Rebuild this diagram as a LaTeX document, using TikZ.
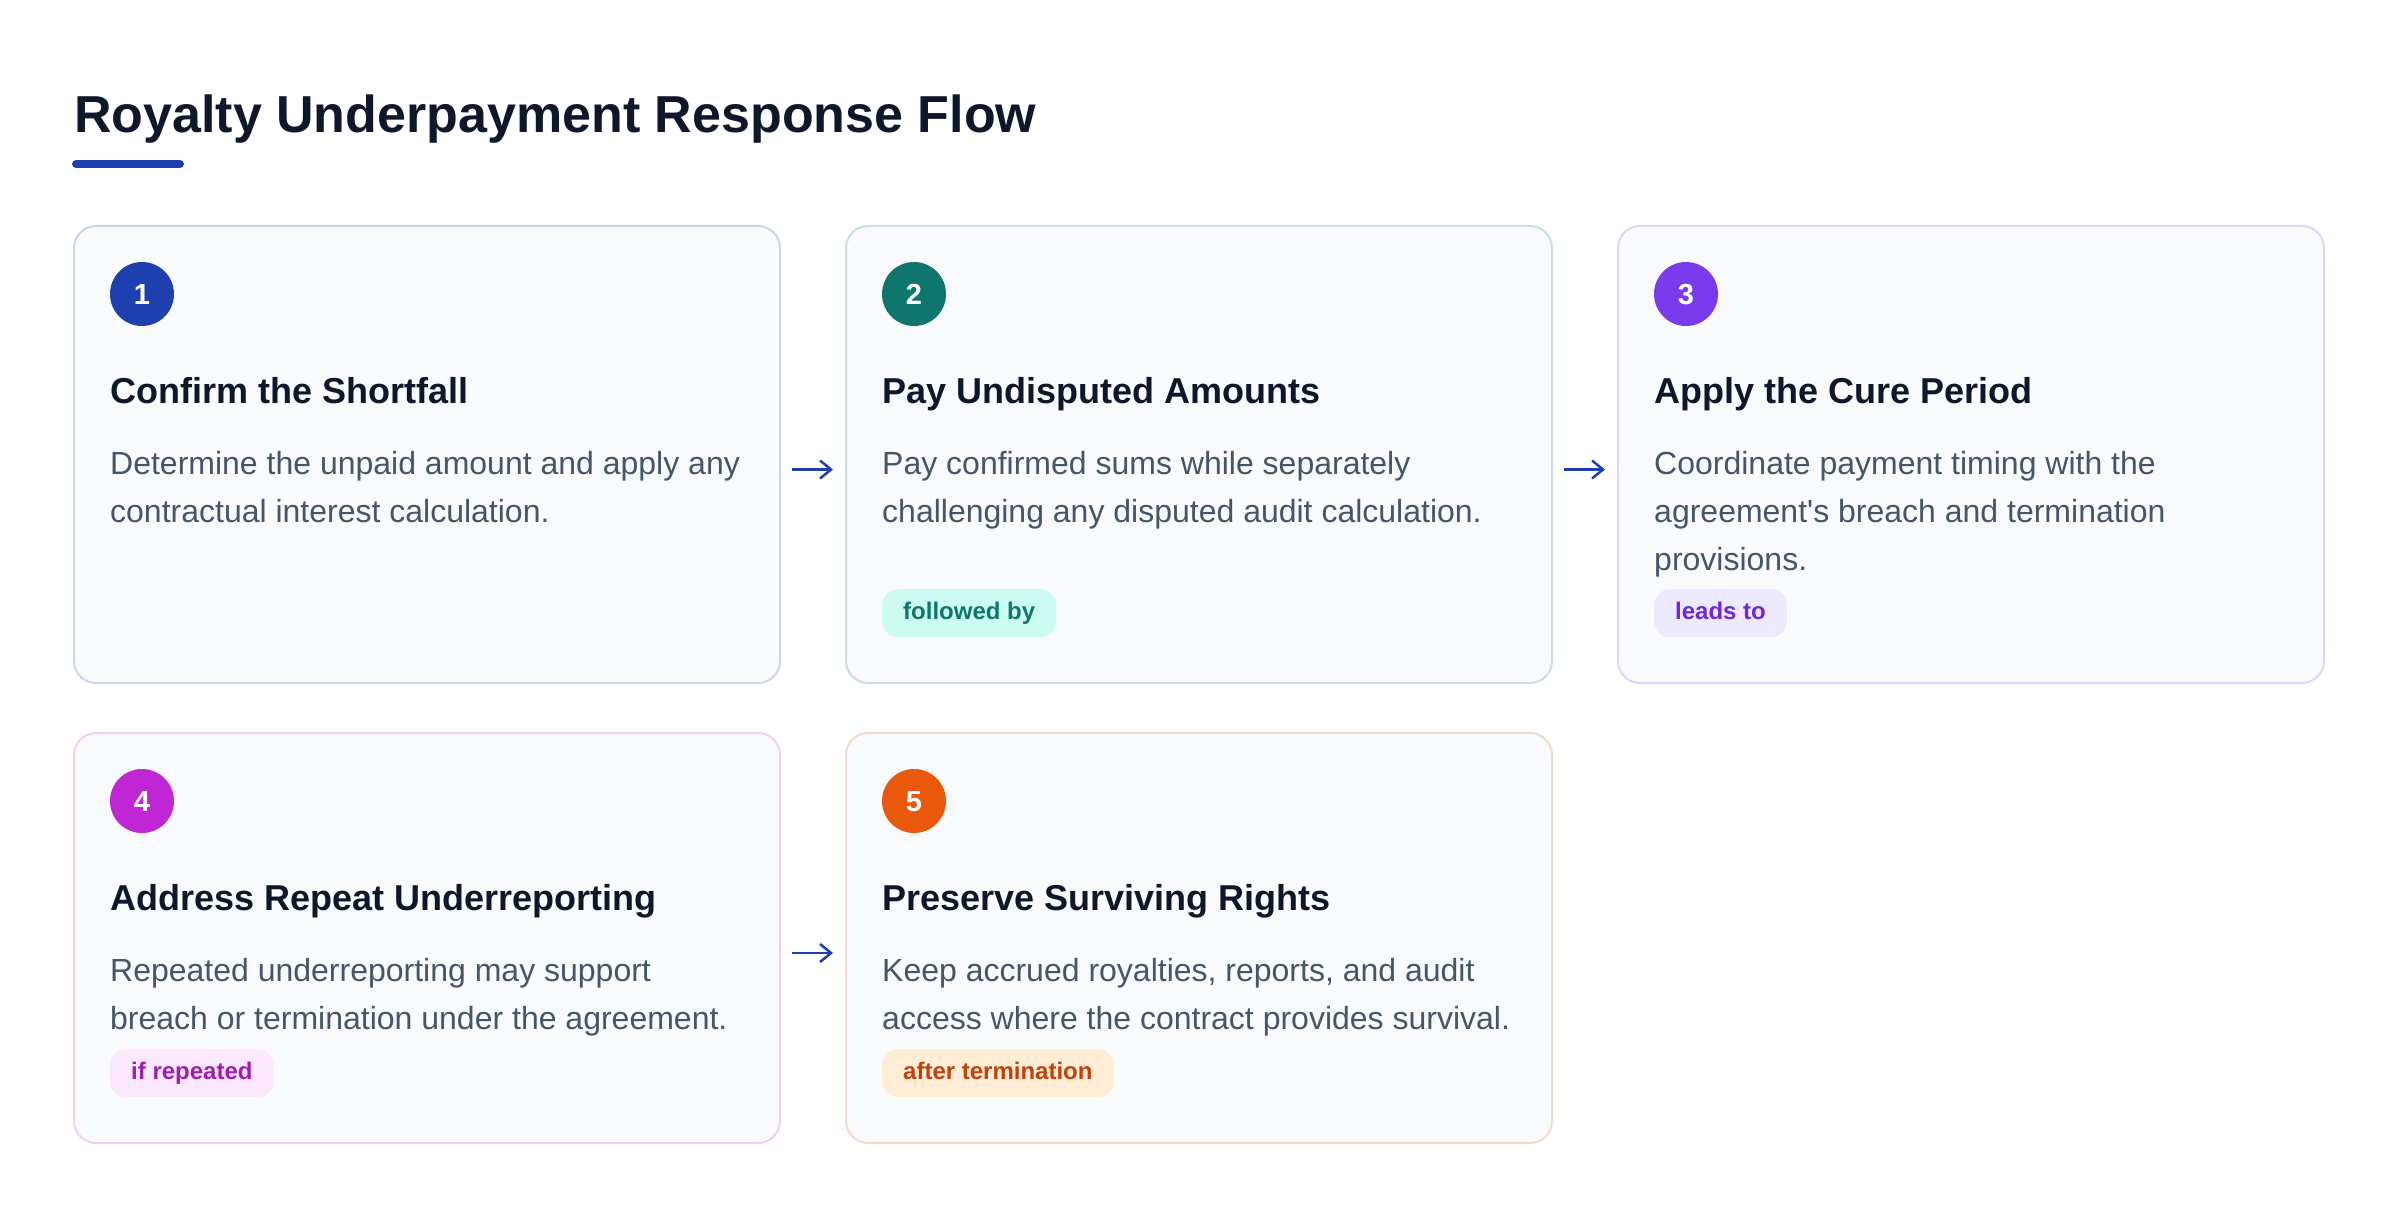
\documentclass[tikz,border=0pt]{standalone}
\usepackage{fontspec}
\setmainfont{Liberation Sans}
\usetikzlibrary{arrows.meta,calc}
\definecolor{titlec}{HTML}{0F172A}
\definecolor{bodyc}{HTML}{475569}
\definecolor{cardbg}{HTML}{F8FAFC}
\definecolor{accA}{HTML}{1E40AF}
\definecolor{accB}{HTML}{0F766E}
\definecolor{accC}{HTML}{7C3AED}
\definecolor{accD}{HTML}{C026D3}
\definecolor{accE}{HTML}{EA580C}
\definecolor{pillB}{HTML}{CCFBF1}
\definecolor{pillC}{HTML}{EDE9FE}
\definecolor{pillD}{HTML}{FAE8FF}
\definecolor{pillE}{HTML}{FFEDD5}
\definecolor{ptxtB}{HTML}{0F766E}
\definecolor{ptxtC}{HTML}{6D28D9}
\definecolor{ptxtD}{HTML}{A21CAF}
\definecolor{ptxtE}{HTML}{C2410C}
\tikzset{
 card/.style={draw=#1!20!cardbg, fill=cardbg, line width=2pt, rounded corners=22pt, anchor=north west, minimum width=706pt, inner sep=0pt},
 badge/.style={circle, fill=#1, minimum size=64pt, inner sep=0pt, text=white, font=\fontsize{29}{29}\selectfont\bfseries, text height=20.8pt, text depth=0pt},
 headtxt/.style={anchor=base west, inner sep=0pt, text=titlec, font=\fontsize{36}{36}\selectfont\bfseries},
 bodytxt/.style={anchor=base west, inner sep=0pt, text=bodyc, font=\fontsize{32}{32}\selectfont},
 pill/.style 2 args={anchor=north west, fill=#1, text=#2, rounded corners=16pt, minimum height=48pt, inner xsep=21pt, inner ysep=0pt, text height=17.2pt, text depth=5pt, font=\fontsize{24}{24}\selectfont\bfseries},
 flowarrow/.style={draw=accA, line width=2.5pt, -{Straight Barb[length=11pt,width=18pt]}},
 titletxt/.style={anchor=base west, inner sep=0pt, text=titlec, font=\fontsize{52}{52}\selectfont\bfseries},
}
\begin{document}
\begin{tikzpicture}[x=1pt,y=-1pt]
\fill[white] (0,0) rectangle (2400,1214);
\useasboundingbox (0,0) rectangle (2400,1214);

\node[titletxt] (title) at (74,133) {Royalty Underpayment Response Flow};
\draw[accA, line width=8pt, line cap=round] (76,164) -- (180,164);

% cards
\node[card=accA, minimum height=457pt] (c1) at (73,225) {};
\node[card=accB, minimum height=457pt] (c2) at (845,225) {};
\node[card=accC, minimum height=457pt] (c3) at (1617,225) {};
\node[card=accD, minimum height=410pt] (c4) at (73,732) {};
\node[card=accE, minimum height=410pt] (c5) at (845,732) {};

% card 1
\node[badge=accA] (n1) at (142,294) {1};
\node[headtxt] (h1) at (110,403) {Confirm the Shortfall};
\node[bodytxt] (b1a) at (110,474) {Determine the unpaid amount and apply any};
\node[bodytxt] (b1b) at (110,522) {contractual interest calculation.};

% card 2
\node[badge=accB] (n2) at (914,294) {2};
\node[headtxt] (h2) at (882,403) {Pay Undisputed Amounts};
\node[bodytxt] (b2a) at (882,474) {Pay confirmed sums while separately};
\node[bodytxt] (b2b) at (882,522) {challenging any disputed audit calculation.};
\node[pill={pillB}{ptxtB}] (p2) at (882,589) {followed by};

% card 3
\node[badge=accC] (n3) at (1686,294) {3};
\node[headtxt] (h3) at (1654,403) {Apply the Cure Period};
\node[bodytxt] (b3a) at (1654,474) {Coordinate payment timing with the};
\node[bodytxt] (b3b) at (1654,522) {agreement\textquotesingle s breach and termination};
\node[bodytxt] (b3c) at (1654,570) {provisions.};
\node[pill={pillC}{ptxtC}] (p3) at (1654,589) {leads to};

% card 4
\node[badge=accD] (n4) at (142,801) {4};
\node[headtxt] (h4) at (110,910) {Address Repeat Underreporting};
\node[bodytxt] (b4a) at (110,981) {Repeated underreporting may support};
\node[bodytxt] (b4b) at (110,1029) {breach or termination under the agreement.};
\node[pill={pillD}{ptxtD}] (p4) at (110,1049) {if repeated};

% card 5
\node[badge=accE] (n5) at (914,801) {5};
\node[headtxt] (h5) at (882,910) {Preserve Surviving Rights};
\node[bodytxt] (b5a) at (882,981) {Keep accrued royalties, reports, and audit};
\node[bodytxt] (b5b) at (882,1029) {access where the contract provides survival.};
\node[pill={pillE}{ptxtE}] (p5) at (882,1049) {after termination};

% arrows
\draw[flowarrow] ([shift={(11pt,-15pt)}]c1.east) -- ([shift={(-12pt,-15pt)}]c2.west);
\draw[flowarrow] ([shift={(11pt,-15pt)}]c2.east) -- ([shift={(-12pt,-15pt)}]c3.west);
\draw[flowarrow] ([shift={(11pt,-15pt)}]c4.east) -- ([shift={(-12pt,-15pt)}]c5.west);
\end{tikzpicture}
\end{document}
